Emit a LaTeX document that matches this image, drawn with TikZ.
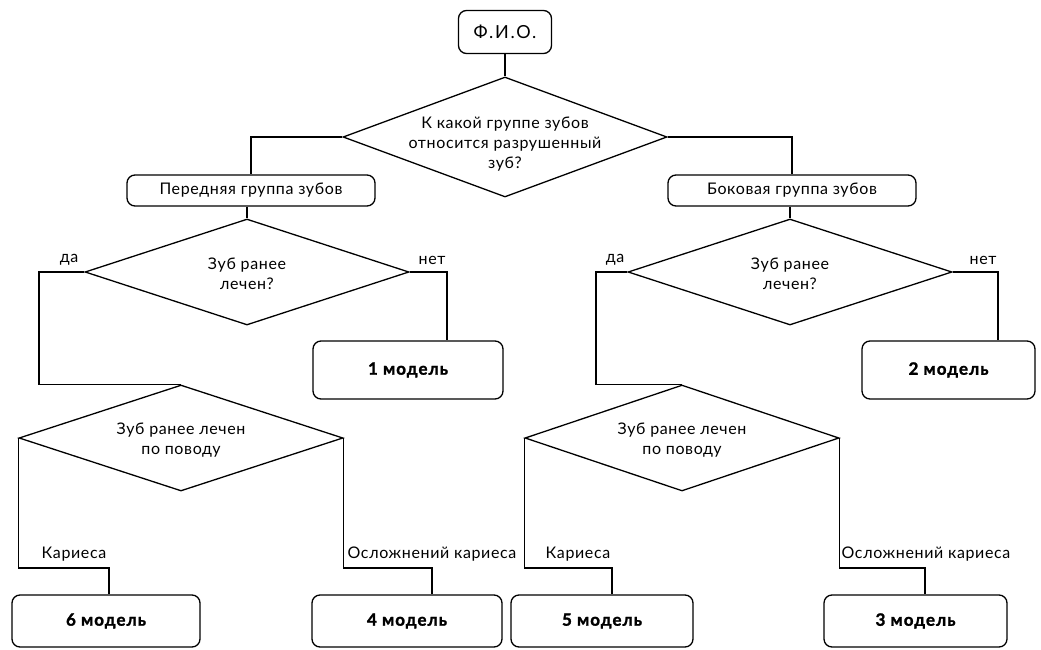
\documentclass[tikz,border=0pt]{standalone}
\usepackage{fontspec}
\setmainfont{Lato}[LetterSpace=4]
\newfontfamily\fiofont{Lato}[LetterSpace=10]
\newfontfamily\modelfont{Lato}[LetterSpace=6, BoldFeatures={FakeBold=1.5}]
\usetikzlibrary{shapes.geometric,calc}
\tikzset{
  box/.style={draw, rounded corners=8pt, line width=1.3pt, inner sep=0pt},
  dia/.style={draw, diamond, line width=1.3pt, inner sep=0pt},
  txt/.style={align=center, font=\fontsize{16}{20}\selectfont, inner sep=0pt},
  lbl/.style={font=\fontsize{16}{19}\selectfont, inner sep=0pt},
  model/.style={box, font=\modelfont\fontsize{17}{20}\selectfont\bfseries},
  conn/.style={line width=1.3pt},
}
\begin{document}
\begin{tikzpicture}[x=1pt,y=-1pt]
\useasboundingbox (0,0) rectangle (1041,650);
% top
\node[box, minimum width=93pt, minimum height=43pt, font=\fiofont\fontsize{18}{20}\selectfont] (fio) at (505,32) {Ф.И.О.};
\node[dia, minimum width=324pt, minimum height=120pt] (d1) at (505,137) {};
\node[txt] (t1) at (505,144) {К какой группе зубов\\относится разрушенный\\зуб?};
\node[box, minimum width=248pt, minimum height=31pt, font=\fontsize{16}{19}\selectfont] (front) at (251,190.5) {Передняя группа зубов};
\node[box, minimum width=248pt, minimum height=31pt, font=\fontsize{16}{19}\selectfont] (side) at (792,190.5) {Боковая группа зубов};
% left second level
\node[dia, minimum width=324pt, minimum height=106pt] (d2) at (247,272) {};
\node[txt] (t2) at (247,274) {Зуб ранее\\лечен?};
\node[dia, minimum width=324pt, minimum height=106pt] (d3) at (181,438) {};
\node[txt] (t3) at (181,440) {Зуб ранее лечен\\по поводу};
\node[model, minimum width=190pt, minimum height=58pt] (m1) at (408,370) {1 модель};
\node[model, minimum width=188pt, minimum height=52pt] (m6) at (106,621) {6 модель};
\node[model, minimum width=190pt, minimum height=52pt] (m4) at (407,621) {4 модель};
% right second level
\node[dia, minimum width=324pt, minimum height=106pt] (d4) at (790,272) {};
\node[txt] (t4) at (790,274) {Зуб ранее\\лечен?};
\node[dia, minimum width=314pt, minimum height=106pt] (d5) at (682,438) {};
\node[txt] (t5) at (682,440) {Зуб ранее лечен\\по поводу};
\node[model, minimum width=173pt, minimum height=58pt] (m2) at (948.5,370) {2 модель};
\node[model, minimum width=182pt, minimum height=52pt] (m5) at (602,621) {5 модель};
\node[model, minimum width=183pt, minimum height=52pt] (m3) at (915.5,621) {3 модель};
% labels
\node[lbl] (l1) at (69,260) {да};
\node[lbl] (l2) at (432,260) {нет};
\node[lbl] (l3) at (615,260) {да};
\node[lbl] (l4) at (983,260) {нет};
\node[lbl] (l5) at (74,554) {Кариеса};
\node[lbl] (l6) at (432,554) {Осложнений кариеса};
\node[lbl] (l7) at (578,554) {Кариеса};
\node[lbl] (l8) at (926,554) {Осложнений кариеса};
% coordinates
\coordinate (ya1) at (39,272);
\coordinate (no1) at (447,272);
\coordinate (ya2) at (596,272);
\coordinate (no2) at (998,272);
\coordinate (k1) at (109,568);
\coordinate (o1) at (432,568);
\coordinate (k2) at (612,568);
\coordinate (o2) at (925,568);
% connectors
\draw[conn] (fio.south) -- (d1.north);
\draw[conn] (d1.west) -| (front.north);
\draw[conn] (d1.east) -| (side.north);
\draw[conn] (front.south -| d2.north) -- (d2.north);
\draw[conn] (side.south -| d4.north) -- (d4.north);
\draw[conn] (d2.west) -- (ya1) |- (d3.north);
\draw[conn] (d2.east) -- (no1) -- (no1 |- m1.north);
\draw[conn] (d4.west) -- (ya2) |- (d5.north);
\draw[conn] (d4.east) -- (no2) -- (no2 |- m2.north);
\draw[conn] (d3.west) |- (k1) -- (k1 |- m6.north);
\draw[conn] (d3.east) |- (o1) -- (o1 |- m4.north);
\draw[conn] (d5.west) |- (k2) -- (k2 |- m5.north);
\draw[conn] (d5.east) |- (o2) -- (o2 |- m3.north);
\end{tikzpicture}
\end{document}
